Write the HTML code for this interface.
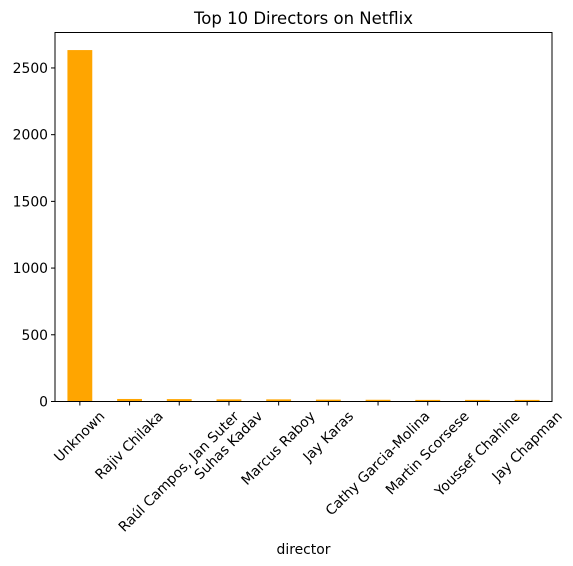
<!DOCTYPE html>
<html><head><meta charset="utf-8"><style>
body{margin:0;background:#fff}
svg{display:block;font-family:"DejaVu Sans","Liberation Sans",sans-serif}
</style></head><body>
<svg id="chart" width="573" height="566"></svg>
<script>
const categories=["Unknown","Rajiv Chilaka","Raúl Campos, Jan Suter","Suhas Kadav","Marcus Raboy","Jay Karas","Cathy Garcia-Molina","Martin Scorsese","Youssef Chahine","Jay Chapman"];
const counts=[2634,19,18,16,16,14,13,12,12,12];
const yTicks=[0,500,1000,1500,2000,2500];
const NS="http://www.w3.org/2000/svg";
const svg=document.getElementById('chart');
const L=55,R=552,T=32.5,B=401.5;
const yMax=Math.max(...counts)*1.05;
const y=v=>B-(v/yMax)*(B-T);
const step=(R-L)/categories.length;
const x=i=>L+step*(i+0.5);
function el(t,a){const e=document.createElementNS(NS,t);for(const k in a)e.setAttribute(k,a[k]);svg.appendChild(e);return e;}
counts.forEach((v,i)=>{
  const b=el('rect',{x:x(i)-step/4,y:y(v),width:step/2,height:B-y(v),fill:'#ffa500'});
  
  
});
const frame=el('rect',{x:L,y:T,width:R-L,height:B-T,fill:'none',stroke:'#000','stroke-width':1});


yTicks.forEach(v=>{
  const tk=el('line',{x1:L-4,x2:L,y1:y(v),y2:y(v),stroke:'#000'});
  
  
  const t=el('text',{x:L-7,y:y(v)+5,'text-anchor':'end','font-size':'13.9px',fill:'#000'});
  t.textContent=v;
  
  
});
categories.forEach((c,i)=>{
  const tk=el('line',{x1:x(i),x2:x(i),y1:B,y2:B+4,stroke:'#000'});
  
  
  const t=el('text',{x:0,y:0,'text-anchor':'end','font-size':'13.9px',fill:'#000'});
  t.textContent=c;
  
  
  t.setAttribute('transform','rotate(-45)');
  const bb=t.getBoundingClientRect();
  const sb=svg.getBoundingClientRect();
  const cx=bb.left-sb.left+bb.width/2, top=bb.top-sb.top;
  t.setAttribute('transform',`translate(${x(i)-cx},${B+7-top}) rotate(-45)`);
});
const title=el('text',{x:(L+R)/2,y:24,'text-anchor':'middle','font-size':'16.5px',fill:'#000'});
title.textContent='Top 10 Directors on Netflix';


const xl=el('text',{x:(L+R)/2,y:554,'text-anchor':'middle','font-size':'13.9px',fill:'#000'});
xl.textContent='director';


</script>
</body></html>
